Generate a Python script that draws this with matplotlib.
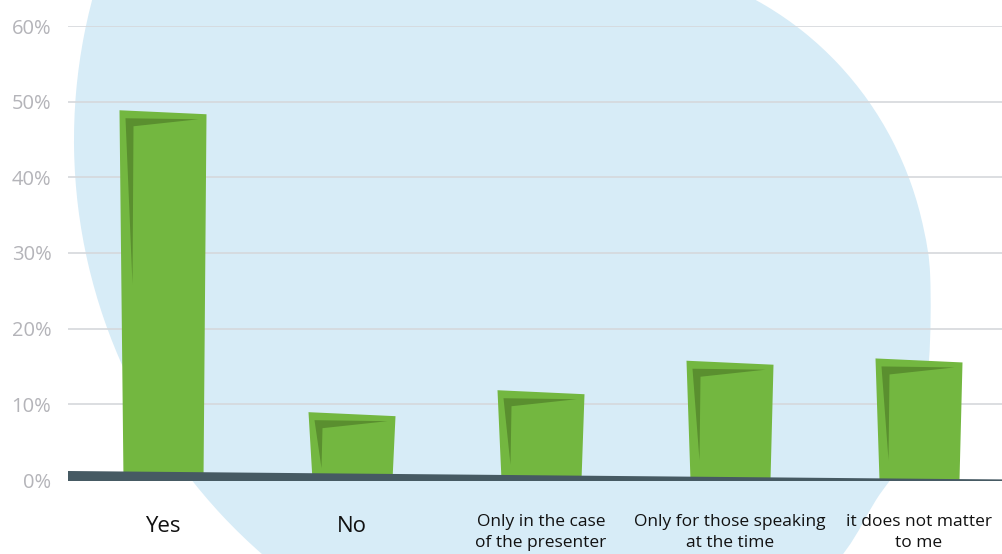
import numpy as np
import matplotlib.pyplot as plt
from matplotlib.patches import Polygon, PathPatch
from matplotlib.path import Path

plt.rcParams['font.family'] = ['Open Sans', 'DejaVu Sans']

categories = ['Yes', 'No', 'Only in the case\nof the presenter',
              'Only for those speaking\nat the time', 'it does not matter\nto me']
values = [48.6, 8.7, 11.6, 15.5, 15.8]
yticks = [0, 10, 20, 30, 40, 50, 60]
ytick_labels = ['0%', '10%', '20%', '30%', '40%', '50%', '60%']

W, H = 1002, 554
GREEN = '#73b740'
DARK = '#5a8f2f'
BLUE = '#d7ecf7'
SLATE = '#465a63'

fig = plt.figure(figsize=(W / 100, H / 100), dpi=100)
fig.patch.set_facecolor('white')

# background blob outline in picture pixels: an ellipse arc on the upper right,
# a large circle arc on the left, a few hand points elsewhere
t = np.radians(np.arange(-100, 1, 8))
right = np.column_stack([600 + 331 * np.cos(t), 300 + 340 * np.sin(t)])
lower = np.array([(929, 360), (919, 420), (900, 465), (876, 500), (846, 550),
                  (800, 602), (700, 660), (550, 690), (420, 650)])
t = np.radians(np.arange(125, 216, 6))
left = np.column_stack([624 + 550 * np.cos(t), 140 + 550 * np.sin(t)])
upper = np.array([(300, -200), (430, -120)])
blob = np.vstack([right, lower, left, upper])

n = len(blob)
verts = [blob[0]]
codes = [Path.MOVETO]
for i in range(n):
    p0, p1, p2, p3 = blob[i - 1], blob[i], blob[(i + 1) % n], blob[(i + 2) % n]
    verts += [p1 + (p2 - p0) / 6, p2 - (p3 - p1) / 6, p2]
    codes += [Path.CURVE4] * 3
verts = np.array(verts)
verts[:, 0] /= W
verts[:, 1] = 1 - verts[:, 1] / H
fig.patches.append(PathPatch(Path(verts, codes), transform=fig.transFigure,
                             facecolor=BLUE, edgecolor='none', zorder=-1))

# plot area: x 68..1002 px, y 26..480 px
ax = fig.add_axes([68 / W, (H - 480) / H, (W - 68) / W, (480 - 26) / H])
ax.set_facecolor('none')
step = 189.0                      # px between categories
px_x = 1 / step                   # one pixel in x data units
px_y = 60 / (480 - 26)            # one pixel in y data units
ax.set_xlim(-95 / step, (W - 163) / step)
ax.set_ylim(0, 60)

ax.set_yticks(yticks)
ax.set_yticklabels(ytick_labels)
ax.set_xticks([])
ax.yaxis.grid(True, color='#d5d8dc', linewidth=1.2)
ax.set_axisbelow(True)
for s in ax.spines.values():
    s.set_visible(False)
ax.tick_params(axis='y', length=0, pad=12, labelsize=14.5, labelcolor='#b4b4b9')

hw = 43.5 * px_x
for i, v in enumerate(values):
    tilt = 2 * px_y
    body = [(i - hw, v + tilt), (i + hw, v - tilt),
            (i + hw - 3 * px_x, 0), (i - hw + 4 * px_x, 0)]
    ax.add_patch(Polygon(body, closed=True, facecolor=GREEN, edgecolor='none', zorder=2))
    top = v + tilt
    tip = min(0.85 * v, 23)
    shade = [(i - hw + 6 * px_x, top - 8 * px_y),
             (i + hw - 8 * px_x, top - 9 * px_y),
             (i - hw + 14 * px_x, top - 16 * px_y),
             (i - hw + 13 * px_x, top - tip)]
    ax.add_patch(Polygon(shade, closed=True, facecolor=DARK, edgecolor='none', zorder=3))

    big = '\n' not in categories[i]
    ax.text(i, (480 - (516 if big else 514)) / 454, categories[i],
            transform=ax.get_xaxis_transform(), ha='center', va='top',
            fontsize=16 if big else 12.5, color='#111111', linespacing=1.45,
            clip_on=False)

# slanted base wedge drawn over the bars
base = [(0, 9 / 454), (1, 0.5 / 454), (1, -1 / 454), (0, -1 / 454)]
ax.add_patch(Polygon(base, closed=True, transform=ax.transAxes, facecolor=SLATE,
                     edgecolor='none', zorder=4, clip_on=False))

fig.savefig('out.png', dpi=100)
